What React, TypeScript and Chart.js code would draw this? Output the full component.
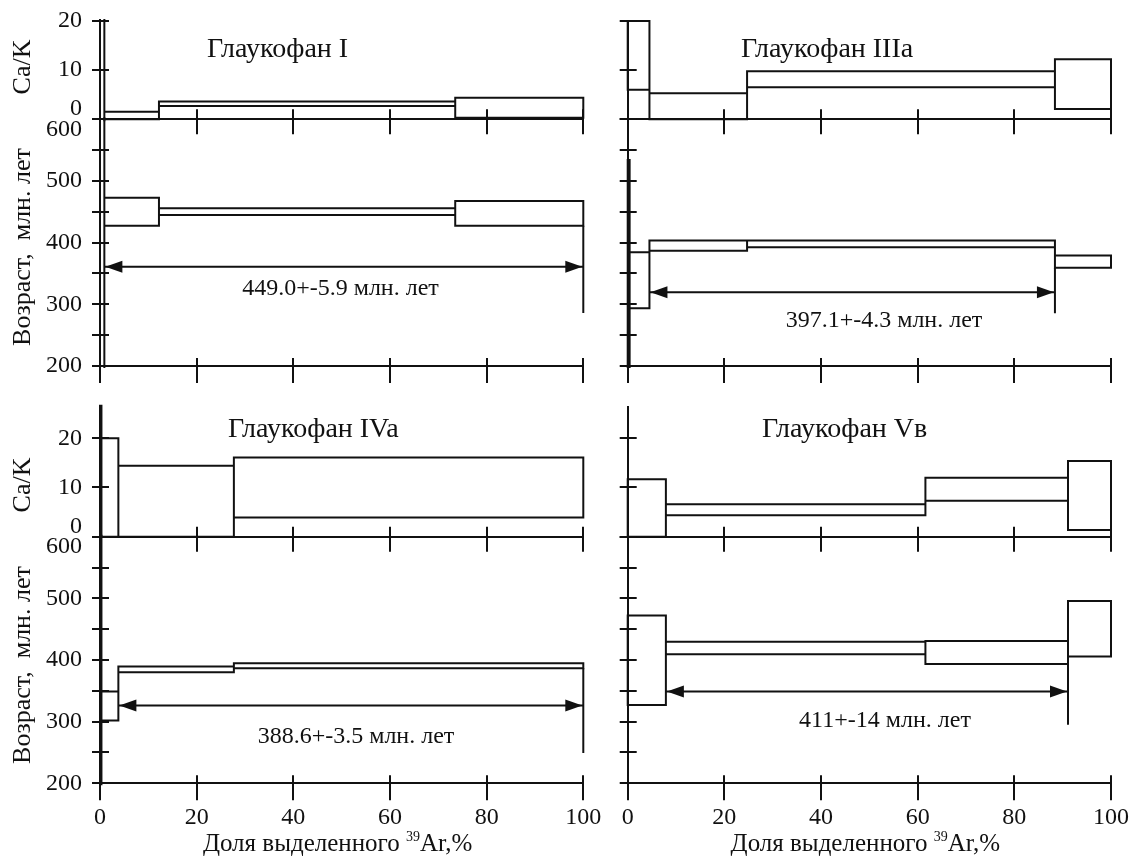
import React, { useEffect, useRef } from 'react';
import { Chart, registerables } from 'chart.js';

Chart.register(...registerables);

// ---------------- data ----------------
// x: cumulative fraction of released 39Ar (%), step boundaries
// lo / hi: lower and upper edge of every step box

const xLabelValues = [0, 20, 40, 60, 80, 100];
const caKLabelValues = [0, 10, 20];
const ageLabelValues = [200, 300, 400, 500, 600];

// Глаукофан I
const g1Title = 'Глаукофан I';
const g1CaBounds = [0, 0.9, 12.2, 73.5, 100];
const g1CaLo = [-1, 0, 2.7, 0.3];
const g1CaHi = [25, 1.55, 3.6, 4.4];
const g1AgeBounds = [0, 0.9, 12.2, 73.5, 100];
const g1AgeLo = [100, 427.6, 445, 427.6];
const g1AgeHi = [700, 473, 455.7, 467.6];
const g1Plateau = [0.9, 100, 361, 286]; // from %, to %, arrow age, foot of end line
const g1Label = '449.0+-5.9 млн. лет';

// Глаукофан IIIa
const g3Title = 'Глаукофан IIIa';
const g3CaBounds = [0, 4.5, 24.7, 88.4, 100];
const g3CaLo = [6, 0, 6.5, 2.1];
const g3CaHi = [20, 5.3, 9.8, 12.2];
const g3AgeBounds = [0, 0.4, 4.5, 24.7, 88.4, 100];
const g3AgeLo = [150, 293.7, 387, 392.5, 359.5];
const g3AgeHi = [534, 384.4, 403.3, 403.3, 379];
const g3Plateau = [4.5, 88.4, 319.6, 285.6];
const g3Label = '397.1+-4.3 млн. лет';

// Глаукофан IVa
const g4Title = 'Глаукофан IVa';
const g4CaBounds = [0, 0.3, 3.8, 27.7, 100];
const g4CaLo = [0, 0, 0, 3.9];
const g4CaHi = [40, 20, 14.4, 16.1];
const g4AgeBounds = [0, 0.3, 3.8, 27.7, 100];
const g4AgeLo = [100, 302, 380.2, 386.7];
const g4AgeHi = [700, 349, 389.3, 394.8];
const g4Plateau = [3.8, 100, 326, 249];
const g4Label = '388.6+-3.5 млн. лет';

// Глаукофан Vв
const g5Title = 'Глаукофан Vв';
const g5CaBounds = [0, 7.9, 61.6, 91.1, 100];
const g5CaLo = [0, 4.35, 7.32, 1.36];
const g5CaHi = [11.66, 6.58, 12.0, 15.4];
const g5AgeBounds = [0, 7.9, 61.6, 91.1, 100];
const g5AgeLo = [327.2, 409.4, 393.7, 405.6];
const g5AgeHi = [472, 429.8, 431, 495.8];
const g5Plateau = [7.9, 91.1, 348.8, 294.8];
const g5Label = '411+-14 млн. лет';

// ---------------- layout / style ----------------
const PAGE_W = 1138;
const PAGE_H = 861;
const FONT = '"Liberation Serif", "Times New Roman", Times, serif';
const INK = '#111';
const Y_AXIS_W = 100;

const colLeft = [100, 627.7];
const colRight = [583.3, 1111];
const rowCaTop = [21, 406.8];
const rowMid = [119.3, 536.7];
const rowBottom = [366, 783.3];
const rowCaMax = [20, 26.4];

const titlePos = [
  [207, 56.7],
  [741, 56.7],
  [228, 436.7],
  [762, 436.7],
];
const labelPos = [
  [340.5, 295],
  [884, 326.7],
  [356, 743.3],
  [885, 726.7],
];

const PANELS = [
  { col: 0, row: 0, title: g1Title, caB: g1CaBounds, caLo: g1CaLo, caHi: g1CaHi, ageB: g1AgeBounds, ageLo: g1AgeLo, ageHi: g1AgeHi, plateau: g1Plateau, label: g1Label },
  { col: 1, row: 0, title: g3Title, caB: g3CaBounds, caLo: g3CaLo, caHi: g3CaHi, ageB: g3AgeBounds, ageLo: g3AgeLo, ageHi: g3AgeHi, plateau: g3Plateau, label: g3Label },
  { col: 0, row: 1, title: g4Title, caB: g4CaBounds, caLo: g4CaLo, caHi: g4CaHi, ageB: g4AgeBounds, ageLo: g4AgeLo, ageHi: g4AgeHi, plateau: g4Plateau, label: g4Label },
  { col: 1, row: 1, title: g5Title, caB: g5CaBounds, caLo: g5CaLo, caHi: g5CaHi, ageB: g5AgeBounds, ageLo: g5AgeLo, ageHi: g5AgeHi, plateau: g5Plateau, label: g5Label },
];

// ---------------- helpers ----------------
function boxPath(bounds: number[], lo: number[], hi: number[]) {
  const pts: any[] = [];
  for (let i = 0; i < lo.length; i++) {
    const a = bounds[i];
    const b = bounds[i + 1];
    pts.push({ x: a, y: lo[i] }, { x: b, y: lo[i] }, { x: b, y: hi[i] }, { x: a, y: hi[i] }, { x: a, y: lo[i] }, { x: a, y: null });
  }
  for (let i = 1; i < lo.length; i++) {
    const b = bounds[i];
    pts.push({ x: b, y: Math.min(lo[i - 1], lo[i]) }, { x: b, y: Math.max(hi[i - 1], hi[i]) }, { x: b, y: null });
  }
  return pts;
}

function plateauPath(bounds: number[], lo: number[], p: number[]) {
  const [from, to, age, foot] = p;
  let top = Infinity;
  bounds.forEach((b, i) => {
    if (Math.abs(b - to) < 1e-6) {
      if (i - 1 >= 0 && i - 1 < lo.length) top = Math.min(top, lo[i - 1]);
      if (i < lo.length) top = Math.min(top, lo[i]);
    }
  });
  return [
    { x: from, y: age },
    { x: to, y: age },
    { x: to, y: null },
    { x: to, y: foot },
    { x: to, y: top },
  ];
}

const innerTicks = {
  id: 'innerTicks',
  afterDraw(chart: any, _args: any, opts: any) {
    const ctx = chart.ctx;
    const { left, bottom } = chart.chartArea;
    const xs = chart.scales.x;
    const ys = chart.scales.y;
    ctx.save();
    ctx.strokeStyle = INK;
    ctx.lineWidth = 2;
    ctx.beginPath();
    xs.ticks.forEach((t: any) => {
      const px = Math.round(xs.getPixelForValue(t.value));
      ctx.moveTo(px, bottom);
      ctx.lineTo(px, bottom - opts.x);
    });
    ys.ticks.forEach((t: any) => {
      const py = Math.round(ys.getPixelForValue(t.value));
      ctx.moveTo(left, py);
      ctx.lineTo(left + opts.y, py);
    });
    ctx.stroke();
    ctx.restore();
  },
};

const arrowHeads = {
  id: 'arrowHeads',
  afterDatasetsDraw(chart: any, _args: any, opts: any) {
    if (!opts || !opts.p) return;
    const [from, to, age] = opts.p;
    const xs = chart.scales.x;
    const ys = chart.scales.y;
    const y = ys.getPixelForValue(age);
    const x1 = xs.getPixelForValue(from);
    const x2 = xs.getPixelForValue(to);
    const len = 17;
    const hw = 6;
    const ctx = chart.ctx;
    ctx.save();
    ctx.fillStyle = INK;
    ctx.beginPath();
    ctx.moveTo(x1 + 1, y);
    ctx.lineTo(x1 + 1 + len, y - hw);
    ctx.lineTo(x1 + 1 + len, y + hw);
    ctx.closePath();
    ctx.fill();
    ctx.beginPath();
    ctx.moveTo(x2 - 1, y);
    ctx.lineTo(x2 - 1 - len, y - hw);
    ctx.lineTo(x2 - 1 - len, y + hw);
    ctx.closePath();
    ctx.fill();
    ctx.restore();
  },
};

const decor = {
  id: 'decor',
  afterDraw(chart: any, _args: any, opts: any) {
    if (!opts || !opts.items) return;
    const ctx = chart.ctx;
    ctx.save();
    ctx.fillStyle = INK;
    opts.items.forEach((it: any) => {
      if (it.segments) {
        let total = 0;
        const widths = it.segments.map((s: any) => {
          ctx.font = `${s.size}px ${FONT}`;
          const w = ctx.measureText(s.t).width;
          total += w;
          return w;
        });
        let x = it.x - total / 2;
        ctx.textAlign = 'left';
        ctx.textBaseline = 'alphabetic';
        it.segments.forEach((s: any, i: number) => {
          ctx.font = `${s.size}px ${FONT}`;
          ctx.fillText(s.t, x, it.y + (s.dy || 0));
          x += widths[i];
        });
        return;
      }
      ctx.font = `${it.size}px ${FONT}`;
      ctx.textAlign = it.align || 'left';
      ctx.textBaseline = 'alphabetic';
      if (it.rot) {
        ctx.save();
        ctx.translate(it.x, it.y);
        ctx.rotate(-Math.PI / 2);
        ctx.fillText(it.t, 0, 0);
        ctx.restore();
      } else {
        ctx.fillText(it.t, it.x, it.y);
      }
    });
    ctx.restore();
  },
};

function makeConfig(panel: any, kind: 'ca' | 'age') {
  const { col, row } = panel;
  const isCa = kind === 'ca';
  const L = colLeft[col];
  const R = colRight[col];
  const T = isCa ? rowCaTop[row] : rowMid[row];
  const B = isCa ? rowMid[row] : rowBottom[row];
  const xH = isCa ? 20 : 78;
  const showXLabels = !isCa && row === 1;
  const showYLabels = col === 0;

  const lineStyle = {
    borderColor: INK,
    borderWidth: 2,
    pointRadius: 0,
    pointHoverRadius: 0,
    fill: false,
    spanGaps: false,
    tension: 0,
    borderCapStyle: 'square',
    borderJoinStyle: 'miter',
    clip: 2,
  };

  const datasets: any[] = [
    { data: isCa ? boxPath(panel.caB, panel.caLo, panel.caHi) : boxPath(panel.ageB, panel.ageLo, panel.ageHi), ...lineStyle },
  ];
  if (!isCa) {
    datasets.push({ data: plateauPath(panel.ageB, panel.ageLo, panel.plateau), ...lineStyle, borderCapStyle: 'butt' });
  }

  const items: any[] = [];
  const idx = row * 2 + col;
  if (isCa) {
    items.push({ t: panel.title, x: titlePos[idx][0], y: titlePos[idx][1], size: 28 });
    if (col === 0) items.push({ t: 'Ca/K', x: 30, y: row === 0 ? 67 : 485, size: 26, rot: true, align: 'center' });
  } else {
    items.push({ t: panel.label, x: labelPos[idx][0], y: labelPos[idx][1], size: 24, align: 'center' });
    if (col === 0) items.push({ t: 'Возраст,  млн. лет', x: 30, y: row === 0 ? 247 : 665, size: 26, rot: true, align: 'center' });
    if (row === 1) {
      items.push({
        x: (colLeft[col] + colRight[col]) / 2 - 4,
        y: 851,
        segments: [
          { t: 'Доля выделенного ', size: 25 },
          { t: '39', size: 14, dy: -10 },
          { t: 'Ar,%', size: 25 },
        ],
      });
    }
  }

  const yMin = isCa ? 0 : 200;
  const yMax = isCa ? rowCaMax[row] : 600;
  const labelSet = isCa ? caKLabelValues : ageLabelValues;

  return {
    type: 'line',
    data: { datasets },
    options: {
      animation: false,
      responsive: false,
      maintainAspectRatio: false,
      events: [],
      layout: {
        padding: { left: L - Y_AXIS_W, right: PAGE_W - R, top: T, bottom: PAGE_H - B - xH },
      },
      plugins: {
        legend: { display: false },
        tooltip: { enabled: false },
        title: { display: false },
        innerTicks: { x: isCa ? 10 : 8, y: 9 },
        arrowHeads: isCa ? {} : { p: panel.plateau },
        decor: { items },
      },
      scales: {
        x: {
          type: 'linear',
          position: 'bottom',
          min: 0,
          max: 100,
          afterFit: (s: any) => {
            s.height = xH;
          },
          ticks: {
            stepSize: 20,
            autoSkip: false,
            display: showXLabels,
            color: INK,
            padding: 3,
            maxRotation: 0,
            font: { family: FONT, size: 24 },
            callback: (v: any) => (xLabelValues.includes(v) ? String(v) : ''),
          },
          grid: { drawOnChartArea: false, drawTicks: true, tickLength: isCa ? 15 : 17, color: INK, lineWidth: 2 },
          border: { display: true, color: INK, width: 2 },
        },
        y: {
          type: 'linear',
          position: 'left',
          min: yMin,
          max: yMax,
          afterFit: (s: any) => {
            s.width = Y_AXIS_W;
          },
          ticks: {
            stepSize: isCa ? 10 : 50,
            autoSkip: false,
            includeBounds: false,
            display: showYLabels,
            color: INK,
            padding: 10,
            font: { family: FONT, size: 24, lineHeight: 0.85 },
            callback: (v: any) => {
              if (!labelSet.includes(v)) return '';
              if (isCa && v === 0) return ['0', ''];
              if (!isCa && v === 600) return ['', '600'];
              return String(v);
            },
          },
          grid: { drawOnChartArea: false, drawTicks: true, tickLength: 8, color: INK, lineWidth: 2 },
          border: { display: true, color: INK, width: 2 },
        },
      },
    },
    plugins: [innerTicks, arrowHeads, decor],
  };
}

export default function App() {
  const refs = useRef<(HTMLCanvasElement | null)[]>([]);

  useEffect(() => {
    const charts: Chart[] = [];
    PANELS.forEach((panel, i) => {
      (['ca', 'age'] as const).forEach((kind, k) => {
        const canvas = refs.current[i * 2 + k];
        if (!canvas) return;
        charts.push(new Chart(canvas, makeConfig(panel, kind) as any));
      });
    });
    return () => charts.forEach((c) => c.destroy());
  }, []);

  return (
    <div style={{ position: 'absolute', left: 0, top: 0, width: PAGE_W, height: PAGE_H, background: '#fff', overflow: 'hidden' }}>
      {Array.from({ length: 8 }).map((_, i) => (
        <canvas
          key={i}
          ref={(el) => {
            refs.current[i] = el;
          }}
          width={PAGE_W}
          height={PAGE_H}
          style={{ position: 'absolute', left: 0, top: 0, width: PAGE_W, height: PAGE_H }}
        />
      ))}
    </div>
  );
}
